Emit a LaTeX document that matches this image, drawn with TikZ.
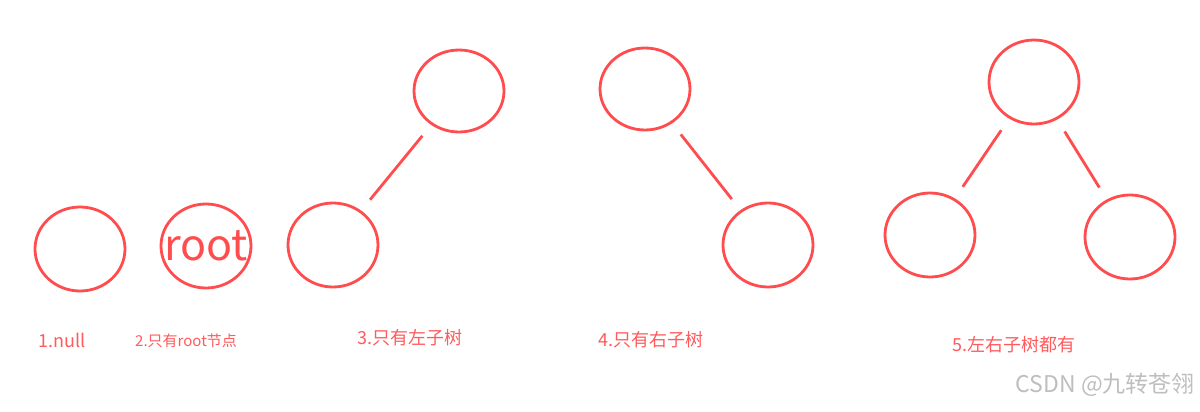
\documentclass[tikz,border=0pt]{standalone}
\usepackage{fontspec}
\setmainfont{Noto Sans CJK SC}
\usetikzlibrary{shapes.geometric}
\definecolor{tred}{RGB}{255,77,79}
\definecolor{lred}{RGB}{255,90,92}
\definecolor{wgray}{RGB}{190,190,190}
\begin{document}
\begin{tikzpicture}[x=1pt,y=-1pt,
  tn/.style={ellipse,draw=tred,line width=2.8pt,minimum width=90pt,minimum height=84pt,inner sep=0pt},
  edge/.style={draw=tred,line width=2.8pt,shorten <=14pt,shorten >=14pt},
  lbl/.style={text=lred,font=\fontsize{18}{18}\selectfont,inner sep=0pt}]
\useasboundingbox (0,0) rectangle (1200,412);
% 1
\node[tn] (n1) at (80,249) {};
% 2
\node[tn,label={[text=tred,font=\fontsize{43}{43}\selectfont,inner sep=0pt]center:root}] (n2) at (206,246) {};
% 3
\node[tn,minimum height=82pt] (t3) at (459,91) {};
\node[tn] (l3) at (333,245) {};
% 4
\node[tn,minimum height=82pt] (t4) at (645,89) {};
\node[tn] (r4) at (768,245) {};
% 5
\node[tn] (t5) at (1034,82) {};
\node[tn] (l5) at (930,235) {};
\node[tn] (r5) at (1130,237) {};
\draw[edge] (t3) -- (l3);
\draw[edge] (t4) -- (r4);
\draw[edge] (t5) -- (l5);
\draw[edge] (t5) -- (r5);
% labels
\node[lbl,anchor=west] (c1) at (38,340) {1.null};
\node[lbl,anchor=west,font=\fontsize{15}{15}\selectfont] (c2) at (135,341) {2.只有root节点};
\node[lbl,anchor=west] (c3) at (357,338) {3.只有左子树};
\node[lbl,anchor=west] (c4) at (598,340) {4.只有右子树};
\node[lbl,anchor=west] (c5) at (952,345) {5.左右子树都有};
\node[anchor=east,text=wgray,font=\fontsize{23}{23}\selectfont,inner sep=0pt] (wm) at (1195,385) {CSDN @九转苍翎};
\end{tikzpicture}
\end{document}
